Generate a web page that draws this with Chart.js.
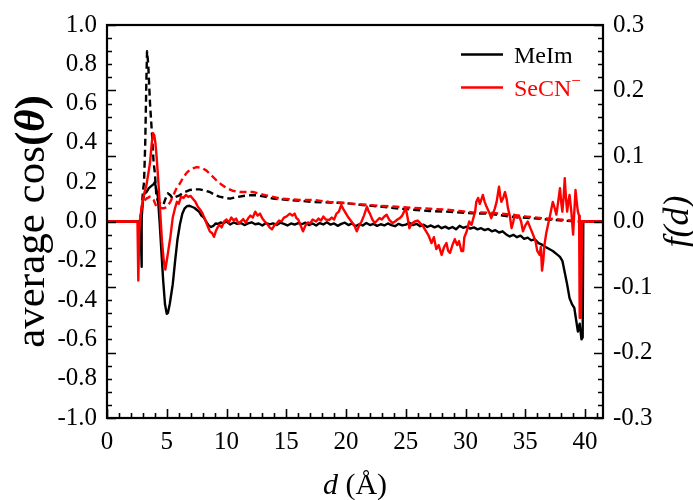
<!DOCTYPE html>
<html>
<head>
<meta charset="utf-8">
<script src="https://cdn.jsdelivr.net/npm/chart.js@4/dist/chart.umd.min.js"></script>
<style>
html,body{margin:0;padding:0;background:#fff;}
#c{display:block;}
</style>
</head>
<body>
<canvas id="c" width="693" height="500"></canvas>
<script>
// ---------- data ----------
const seriesNames = ["MeIm", "SeCN"];

// average cos(theta), MeIm (left axis)
const dCosMeIm = [0,2.8,2.85,2.88,2.92,3.0,3.1,3.3,3.5,3.7,3.9,4.0,4.1,4.25,4.4,4.55,4.7,4.85,5.0,5.1,5.25,5.4,5.5,5.7,5.9,6.1,6.3,6.5,6.7,6.9,7.1,7.3,7.5,7.7,7.9,8.1,8.3,8.5,8.7,8.9,9.1,9.3,9.5,9.7,10.0,10.3,10.6,10.9,11.2,11.5,11.8,12.1,12.4,12.7,13.0,13.3,13.6,13.9,14.2,14.5,14.8,15.1,15.4,15.7,16.0,16.3,16.6,16.9,17.2,17.5,17.8,18.1,18.4,18.7,19.0,19.3,19.6,19.9,20.2,20.5,20.8,21.1,21.4,21.7,22.0,22.3,22.6,22.9,23.2,23.5,23.8,24.1,24.4,24.7,25.0,25.3,25.6,25.9,26.2,26.5,26.8,27.1,27.4,27.7,28.0,28.3,28.6,28.9,29.2,29.5,29.8,30.1,30.4,30.7,31.0,31.3,31.6,31.9,32.2,32.5,32.8,33.1,33.4,33.7,34.0,34.3,34.6,34.9,35.2,35.5,35.8,36.1,36.4,36.7,37.0,37.3,37.6,37.9,38.1,38.3,38.5,38.7,38.9,39.1,39.25,39.4,39.55,39.7,39.8,39.85,41.5];
const cosMeIm = [0,0,-0.1,-0.23,0.02,0.1,0.14,0.15,0.17,0.18,0.19,0.2,0.17,0.13,0.0,-0.15,-0.3,-0.42,-0.47,-0.465,-0.42,-0.36,-0.32,-0.2,-0.09,-0.015,0.04,0.067,0.078,0.08,0.075,0.07,0.06,0.05,0.03,0.02,0.0,-0.02,-0.028,-0.022,-0.01,-0.012,-0.005,-0.01,0.0,-0.015,-0.005,-0.012,-0.008,-0.018,-0.01,-0.004,-0.014,-0.01,-0.02,-0.008,-0.015,-0.01,-0.018,-0.006,-0.012,-0.02,-0.01,-0.016,-0.008,-0.014,-0.006,-0.018,-0.01,-0.02,-0.008,-0.015,-0.004,-0.016,-0.01,-0.022,-0.012,-0.006,-0.018,-0.01,-0.024,-0.014,-0.02,-0.008,-0.018,-0.012,-0.022,-0.014,-0.02,-0.01,-0.018,-0.024,-0.012,-0.02,-0.016,-0.006,-0.018,-0.012,-0.024,-0.016,-0.028,-0.02,-0.03,-0.022,-0.034,-0.026,-0.036,-0.028,-0.04,-0.022,-0.032,-0.026,-0.036,-0.03,-0.04,-0.034,-0.044,-0.038,-0.05,-0.044,-0.056,-0.05,-0.066,-0.076,-0.068,-0.08,-0.072,-0.088,-0.082,-0.096,-0.09,-0.11,-0.118,-0.13,-0.14,-0.15,-0.165,-0.18,-0.2,-0.26,-0.32,-0.39,-0.42,-0.44,-0.5,-0.56,-0.52,-0.6,-0.59,0,0];

// average cos(theta), SeCN- (left axis)
const dCosSeCN = [0,2.55,2.62,2.7,2.8,2.9,3.1,3.3,3.5,3.6,3.75,3.85,3.95,4.05,4.15,4.3,4.45,4.6,4.75,4.88,5.0,5.15,5.3,5.5,5.7,5.85,6.0,6.2,6.4,6.6,6.8,7.0,7.2,7.4,7.6,7.8,8.0,8.2,8.4,8.6,8.8,8.95,9.1,9.25,9.4,9.6,9.8,10.0,10.2,10.4,10.6,10.8,11.0,11.2,11.4,11.6,11.8,12.0,12.2,12.4,12.6,12.8,13.0,13.2,13.4,13.6,13.8,14.0,14.2,14.4,14.6,14.8,15.0,15.3,15.5,15.7,15.85,16.0,16.2,16.4,16.6,16.8,17.0,17.2,17.5,17.7,17.9,18.1,18.3,18.6,18.8,19.0,19.2,19.4,19.6,19.8,20.0,20.2,20.45,20.7,20.9,21.1,21.3,21.5,21.75,21.9,22.0,22.2,22.4,22.6,22.8,23.0,23.2,23.4,23.6,23.9,24.1,24.3,24.5,24.7,24.85,25.0,25.15,25.3,25.5,25.75,26.0,26.2,26.4,26.7,26.9,27.15,27.35,27.55,27.75,28.0,28.2,28.4,28.55,28.7,28.9,29.1,29.3,29.45,29.65,29.8,29.9,30.1,30.3,30.5,30.6,30.8,30.9,31.05,31.2,31.45,31.6,31.75,31.95,32.15,32.3,32.45,32.6,32.8,32.9,33.0,33.15,33.3,33.45,33.55,33.7,33.85,34.0,34.1,34.3,34.5,34.65,34.8,35.0,35.2,35.4,35.65,35.85,36.0,36.2,36.3,36.4,36.5,36.6,36.75,36.9,37.1,37.3,37.45,37.6,37.75,37.9,38.0,38.1,38.2,38.3,38.4,38.5,38.6,38.7,38.85,39.0,39.1,39.2,39.3,39.4,39.5,39.55,39.65,39.75,41.5];
const cosSeCN = [0,0,-0.3,-0.05,0.03,0.07,0.14,0.185,0.26,0.3,0.4,0.45,0.44,0.4,0.33,0.2,0.05,-0.1,-0.2,-0.245,-0.2,-0.14,-0.08,0.02,0.07,0.1,0.09,0.126,0.12,0.135,0.125,0.13,0.115,0.1,0.075,0.06,0.04,0.01,-0.02,-0.05,-0.06,-0.078,-0.05,-0.03,-0.017,-0.03,0.0,0.01,-0.005,0.02,0.005,0.015,-0.01,0.0,0.012,-0.006,0.015,0.03,0.02,0.05,0.03,0.04,0.015,0.0,-0.012,-0.03,-0.04,-0.02,-0.01,0.005,0.0,0.02,0.025,0.04,0.03,0.04,0.017,0.01,-0.02,-0.05,-0.02,-0.005,-0.01,0.01,0.0,0.015,0.005,0.025,0.01,0.008,0.02,0.01,0.04,0.05,0.084,0.06,0.04,0.02,0.0,-0.02,-0.05,-0.02,0.0,0.03,0.076,0.05,0.04,0.01,-0.008,0.005,0.017,0.01,0.025,0.034,0.01,-0.008,0.0,0.01,0.017,0.03,0.05,0.067,0.02,-0.034,-0.01,0.0,0.005,-0.008,-0.02,-0.05,-0.07,-0.11,-0.08,-0.14,-0.12,-0.17,-0.13,-0.11,-0.15,-0.16,-0.12,-0.09,-0.12,-0.1,-0.15,-0.15,-0.08,-0.05,0.0,-0.017,0.005,0.05,0.1,0.12,0.09,0.135,0.1,0.076,0.05,0.017,0.04,0.067,0.1,0.177,0.13,0.1,0.12,0.15,0.11,0.067,0.03,-0.034,0.0,0.034,0.02,0.025,0.0,-0.05,-0.02,0.0,-0.03,-0.067,-0.1,-0.15,-0.17,-0.13,-0.25,-0.2,-0.12,-0.06,-0.017,0.04,0.1,0.07,0.035,0.1,0.17,0.1,0.05,0.12,0.22,0.12,0.05,0.1,0.135,0.05,-0.067,0.05,0.16,0.1,0.05,0.03,-0.49,-0.49,0,0];

// f(d), MeIm (right axis)
const dFMeIm = [0,2.85,2.88,3.0,3.1,3.2,3.3,3.35,3.45,3.6,3.77,3.9,4.0,4.13,4.27,4.5,4.7,4.9,5.1,5.3,5.5,5.8,6.08,6.5,6.9,7.3,7.75,8.2,8.6,9.0,9.4,9.9,10.3,10.8,11.4,12.0,12.5,13.2,13.9,15.0,16.1,17.2,18.6,20.0,21.4,22.8,24.2,25.6,27.0,28.4,30.6,32.0,33.7,35.6,37.3,38.5,39.5,41.5];
const fMeIm = [0,0,0.01,0.045,0.06,0.12,0.22,0.26,0.24,0.18,0.132,0.09,0.075,0.04,0.03,0.027,0.025,0.035,0.043,0.04,0.035,0.038,0.04,0.045,0.048,0.049,0.049,0.047,0.045,0.041,0.038,0.036,0.035,0.037,0.039,0.04,0.04,0.038,0.035,0.033,0.0315,0.03,0.029,0.028,0.025,0.023,0.02,0.018,0.016,0.015,0.0125,0.012,0.0075,0.005,0.0025,0.001,0,0];

// f(d), SeCN- (right axis)
const dFSeCN = [0,2.6,2.74,2.85,3.0,3.3,3.6,3.9,4.13,4.4,4.7,5.0,5.3,5.6,5.85,6.1,6.4,6.7,7.0,7.5,7.9,8.3,8.7,9.15,9.6,10.0,10.5,11.1,12.2,13.3,14.5,16.1,17.2,18.6,20.0,21.4,22.8,24.2,25.6,27.0,28.4,29.5,30.6,32.0,33.5,35.1,36.5,37.9,38.8,39.4,41.5];
const fSeCN = [0,0,0,0.015,0.03,0.035,0.038,0.033,0.023,0.021,0.02,0.022,0.03,0.042,0.052,0.058,0.068,0.075,0.08,0.083,0.082,0.078,0.071,0.063,0.056,0.051,0.047,0.045,0.045,0.04,0.035,0.033,0.033,0.03,0.028,0.026,0.024,0.0225,0.021,0.0195,0.018,0.016,0.014,0.0135,0.011,0.0075,0.005,0.003,0.0015,0,0];

// ---------- helpers ----------
const pts = (xs, ys) => xs.map((x, i) => ({x: x, y: ys[i]}));
const SERIF = "'Liberation Serif', 'Times New Roman', serif";
Chart.defaults.font.family = SERIF;
Chart.defaults.color = '#000';

const fmt1 = v => (Math.abs(v) < 1e-9 ? '0.0' : v.toFixed(1));

const framePlugin = {
  id: 'frame',
  afterDatasetsDraw(chart) {
    const ctx = chart.ctx, a = chart.chartArea;
    const sx = chart.scales.x, sr = chart.scales.y2;
    ctx.save();
    ctx.strokeStyle = '#000';
    ctx.lineWidth = 1.6;
    ctx.beginPath();
    // vertical ticks (shared by left and right axes)
    for (let k = -15; k <= 15; k++) {
      const y = Math.round(sr.getPixelForValue(k * 0.02)) + 0.5;
      const len = (k % 5 === 0) ? 9 : 5;
      ctx.moveTo(a.left, y); ctx.lineTo(a.left + len, y);
      ctx.moveTo(a.right, y); ctx.lineTo(a.right - len, y);
    }
    for (let k = 0; k <= 41; k++) {
      const x = Math.round(sx.getPixelForValue(k)) + 0.5;
      const len = (k % 5 === 0) ? 9 : 5;
      ctx.moveTo(x, a.bottom); ctx.lineTo(x, a.bottom - len);
    }
    ctx.stroke();
    ctx.lineWidth = 2.2;
    ctx.strokeRect(a.left, a.top, a.right - a.left, a.bottom - a.top);
    ctx.restore();
  },
  afterDraw(chart) {
    const ctx = chart.ctx, a = chart.chartArea;
    const ds = chart.data.datasets;
    ctx.save();
    ctx.fillStyle = '#000';
    ctx.textBaseline = 'alphabetic';
    // left title: average cos(θ)
    const parts = [
      {t: 'average cos', f: '43px ' + SERIF},
      {t: '(', f: 'bold 43px ' + SERIF},
      {t: 'θ', f: 'italic bold 43px ' + SERIF},
      {t: ')', f: 'bold 43px ' + SERIF}
    ];
    let total = 0;
    parts.forEach(p => { ctx.font = p.f; p.w = ctx.measureText(p.t).width; total += p.w; });
    ctx.save();
    ctx.translate(44, (a.top + a.bottom) / 2);
    ctx.rotate(-Math.PI / 2);
    let px = -total / 2;
    ctx.textAlign = 'left';
    parts.forEach(p => { ctx.font = p.f; ctx.fillText(p.t, px, 0); px += p.w; });
    ctx.restore();
    // right title: f(d)
    ctx.save();
    ctx.translate(688, (a.top + a.bottom) / 2);
    ctx.rotate(-Math.PI / 2);
    ctx.font = 'italic 36px ' + SERIF;
    ctx.textAlign = 'center';
    ctx.fillText('f(d)', 0, 0);
    ctx.restore();
    // x title: d (Å)
    const xp = [
      {t: 'd', f: 'italic 30px ' + SERIF},
      {t: ' (Å)', f: '30px ' + SERIF}
    ];
    let tw = 0;
    xp.forEach(p => { ctx.font = p.f; p.w = ctx.measureText(p.t).width; tw += p.w; });
    let xx = (a.left + a.right) / 2 - tw / 2;
    ctx.textAlign = 'left';
    xp.forEach(p => { ctx.font = p.f; ctx.fillText(p.t, xx, 494); xx += p.w; });
    // legend
    const items = [
      {label: seriesNames[0], color: ds[0].borderColor, y: 54.5},
      {label: seriesNames[1], color: ds[1].borderColor, y: 87.5}
    ];
    items.forEach((it, i) => {
      ctx.strokeStyle = it.color;
      ctx.lineWidth = 2.5;
      ctx.beginPath();
      ctx.moveTo(461, it.y); ctx.lineTo(503, it.y);
      ctx.stroke();
      ctx.fillStyle = it.color;
      ctx.font = '24px ' + SERIF;
      ctx.textAlign = 'left';
      ctx.fillText(it.label, 514, it.y + 8);
      if (i === 1) {
        const w = ctx.measureText(it.label).width;
        ctx.font = '17px ' + SERIF;
        ctx.fillText('−', 514 + w, it.y - 2);
      }
    });
    ctx.restore();
  }
};

new Chart(document.getElementById('c'), {
  type: 'scatter',
  data: {
    datasets: [
      {label: 'MeIm', data: pts(dCosMeIm, cosMeIm), yAxisID: 'y', borderColor: '#000000', order: 2},
      {label: 'SeCN-', data: pts(dCosSeCN, cosSeCN), yAxisID: 'y', borderColor: '#ff0000', order: 0},
      {label: 'MeIm f(d)', data: pts(dFMeIm, fMeIm), yAxisID: 'y2', borderColor: '#000000', borderDash: [7, 4], order: 3},
      {label: 'SeCN- f(d)', data: pts(dFSeCN, fSeCN), yAxisID: 'y2', borderColor: '#ff0000', borderDash: [7, 4], order: 1}
    ]
  },
  options: {
    responsive: false,
    animation: false,
    devicePixelRatio: 1,
    layout: {padding: {top: 22, left: 0, right: 0, bottom: 0}},
    elements: {
      point: {radius: 0, hoverRadius: 0},
      line: {borderWidth: 2.4, tension: 0, fill: false, borderJoinStyle: 'round'}
    },
    datasets: {scatter: {showLine: true}},
    plugins: {legend: {display: false}, tooltip: {enabled: false}},
    scales: {
      x: {
        type: 'linear', position: 'bottom', min: 0, max: 41.5,
        grid: {display: false, drawTicks: false},
        border: {display: false},
        ticks: {stepSize: 5, includeBounds: false, padding: 9, font: {size: 25}, color: '#000', maxRotation: 0,
                callback: v => String(v)},
        afterFit: s => { s.height = 82; }
      },
      y: {
        type: 'linear', position: 'left', min: -1, max: 1,
        grid: {display: false, drawTicks: false},
        border: {display: false},
        ticks: {stepSize: 0.2, padding: 10, font: {size: 25}, color: '#000', callback: v => fmt1(v)},
        afterFit: s => { s.width = 107; }
      },
      y2: {
        type: 'linear', position: 'right', min: -0.3, max: 0.3,
        grid: {display: false, drawTicks: false},
        border: {display: false},
        ticks: {stepSize: 0.1, padding: 10, font: {size: 25}, color: '#000', callback: v => fmt1(v)},
        afterFit: s => { s.width = 90; }
      }
    }
  },
  plugins: [framePlugin]
});
</script>
</body>
</html>
